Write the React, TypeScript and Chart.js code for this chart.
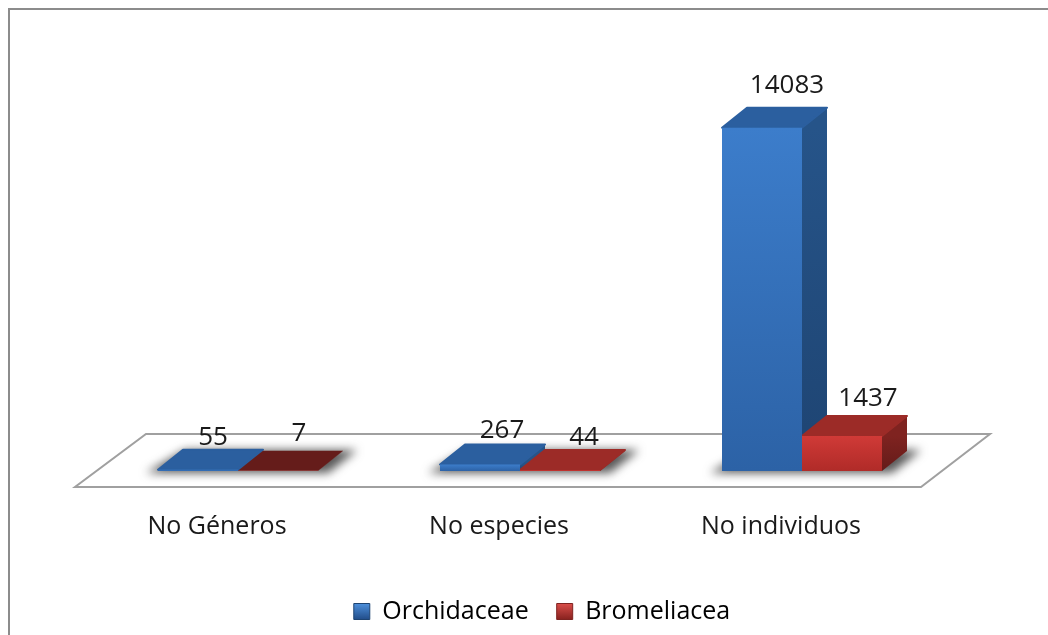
import React, { useEffect, useRef } from "react";
import { Chart, registerables } from "chart.js";

Chart.register(...registerables);

const categories = ["No Géneros", "No especies", "No individuos"];
const orchidaceae = [55, 267, 14083];
const bromeliacea = [7, 44, 1437];
const seriesNames = ["Orchidaceae", "Bromeliacea"];

const FONT = '"Open Sans", "Noto Sans", sans-serif';
const DX = 25;
const DY = 20;
const LABEL_NUDGE = [
  [[-9, 4], [-3, -1]],
  [[-2, 2], [0, 4]],
  [[1, -6], [2, -1]],
];

const BLUE = { front: ["#3c7dcb", "#2c62a6"], top: "#2b5f9f", side: ["#265489", "#1e4472"], key: ["#4f92de", "#234f8c"] };
const RED = { front: ["#d03a37", "#b02b28"], top: "#9c2b27", side: ["#7f2320", "#641b19"], key: ["#dc4f4b", "#8a2320"] };

function frontGradient(ctx: any, colors: string[]) {
  const { chart } = ctx;
  const yScale = chart.scales.y;
  const raw = ctx.raw;
  if (!yScale || typeof raw !== "number") return colors[0];
  const t = yScale.getPixelForValue(raw);
  const b = yScale.getPixelForValue(0);
  if (!Number.isFinite(t) || !Number.isFinite(b)) return colors[0];
  const g = chart.ctx.createLinearGradient(0, t, 0, b);
  g.addColorStop(0, colors[0]);
  g.addColorStop(1, colors[1]);
  return g;
}

function keyGradient(chart: any, colors: string[]) {
  const g = chart.ctx.createLinearGradient(0, 603, 0, 619);
  g.addColorStop(0, colors[0]);
  g.addColorStop(1, colors[1]);
  return g;
}

function face(ctx: any, pts: number[][], soften = false) {
  ctx.beginPath();
  pts.forEach(([x, y], i) => (i ? ctx.lineTo(x, y) : ctx.moveTo(x, y)));
  ctx.closePath();
  ctx.fill();
  if (soften) {
    ctx.lineJoin = "round";
    ctx.lineWidth = 2;
    ctx.strokeStyle = ctx.fillStyle;
    ctx.stroke();
  }
}

const scene3d = {
  id: "scene3d",
  afterLayout(chart: any) {
    // the legend is centred on the whole plot, not on the category band
    chart.legend.left += 22;
    chart.legend.right += 22;
  },
  beforeDatasetsDraw(chart: any) {
    const { ctx, chartArea: a } = chart;
    ctx.save();
    // frame: only the top and left edges fall inside the picture
    ctx.strokeStyle = "#8c8c8c";
    ctx.lineWidth = 2;
    ctx.strokeRect(9, 9, chart.width + 20, chart.height + 20);
    // floor
    const frontY = a.bottom + 16;
    const backY = a.bottom - 37;
    ctx.beginPath();
    ctx.moveTo(a.left - 22, frontY);
    ctx.lineTo(a.right - 22, frontY);
    ctx.lineTo(a.right + 47, backY);
    ctx.lineTo(a.left + 49, backY);
    ctx.closePath();
    ctx.fillStyle = "#ffffff";
    ctx.fill();
    ctx.strokeStyle = "#a0a0a0";
    ctx.lineWidth = 2;
    ctx.stroke();

    const m0 = chart.getDatasetMeta(0).data;
    const m1 = chart.getDatasetMeta(1).data;
    // shadows under each group
    m0.forEach((el: any, i: number) => {
      const l = el.x - el.width / 2;
      const r = m1[i].x + m1[i].width / 2;
      ctx.save();
      ctx.filter = "blur(5px)";
      ctx.fillStyle = "rgba(60,60,60,0.85)";
      face(ctx, [
        [l - 12, a.bottom + 2],
        [r + 10, a.bottom + 2],
        [r + DX + 14, a.bottom - DY - 1],
        [l + DX + 2, a.bottom - DY - 1],
      ]);
      ctx.restore();
    });

    // side and top faces
    [{ m: m0, c: BLUE }, { m: m1, c: RED }].forEach(({ m, c }) => {
      m.forEach((el: any) => {
        const l = el.x - el.width / 2;
        const r = el.x + el.width / 2;
        const t = el.y;
        const b = el.base;
        const side = ctx.createLinearGradient(0, t, 0, b + 0.01);
        side.addColorStop(0, c.side[0]);
        side.addColorStop(1, c.side[1]);
        ctx.fillStyle = side;
        face(ctx, [[r, t], [r + DX, t - DY], [r + DX, b - DY], [r, b]]);
        const flat = b - t < 1;
        ctx.fillStyle = flat && c === RED ? "#651c1a" : c.top;
        face(ctx, [[l, t], [r, t], [r + DX, t - DY], [l + DX, t - DY]], !flat);
      });
    });
    ctx.restore();
  },
  afterDatasetsDraw(chart: any) {
    const { ctx } = chart;
    ctx.save();
    ctx.fillStyle = "#1a1a1a";
    ctx.font = `26px ${FONT}`;
    ctx.textAlign = "center";
    ctx.textBaseline = "middle";
    chart.data.datasets.forEach((ds: any, d: number) => {
      chart.getDatasetMeta(d).data.forEach((el: any, i: number) => {
        const [nx, ny] = LABEL_NUDGE[i][d];
        ctx.fillText(String(ds.data[i]), el.x + 24 + nx, el.y - 36 + ny);
      });
    });
    ctx.restore();
  },
};

export default function App() {
  const ref = useRef<HTMLCanvasElement>(null);
  useEffect(() => {
    const chart = new Chart(ref.current as HTMLCanvasElement, {
      type: "bar",
      data: {
        labels: categories,
        datasets: [
          {
            label: seriesNames[0],
            data: orchidaceae,
            backgroundColor: (c: any) => frontGradient(c, BLUE.front),
            borderWidth: 0,
            barPercentage: 1,
            categoryPercentage: 160 / 282,
          },
          {
            label: seriesNames[1],
            data: bromeliacea,
            backgroundColor: (c: any) => frontGradient(c, RED.front),
            borderWidth: 0,
            barPercentage: 1,
            categoryPercentage: 160 / 282,
          },
        ],
      },
      options: {
        animation: false,
        responsive: false,
        layout: { padding: { left: 97, right: 105, top: 81, bottom: 1 } },
        scales: {
          x: {
            grid: { display: false },
            border: { display: false },
            afterFit: (s: any) => {
              s.height = 100;
            },
            ticks: {
              color: "#1a1a1a",
              font: { family: FONT, size: 25 },
              padding: 33,
              labelOffset: -21,
              maxRotation: 0,
            },
          },
          y: { display: false, min: 0, max: 16000 },
        },
        plugins: {
          tooltip: { enabled: false },
          legend: {
            position: "bottom",
            labels: {
              color: "#1a1a1a",
              font: { family: FONT, size: 25 },
              boxWidth: 16,
              boxHeight: 16,
              padding: 28,
              generateLabels: (c: any) => [
                { text: seriesNames[0], fillStyle: keyGradient(c, BLUE.key), strokeStyle: "#1e4472", lineWidth: 1, datasetIndex: 0 },
                { text: seriesNames[1], fillStyle: keyGradient(c, RED.key), strokeStyle: "#7f2320", lineWidth: 1, datasetIndex: 1 },
              ],
            },
          },
        },
      },
      plugins: [scene3d],
    } as any);
    return () => chart.destroy();
  }, []);
  return (
    <div style={{ position: "absolute", left: 0, top: 0, width: 1048, height: 635, overflow: "hidden", background: "#fff" }}>
      <canvas ref={ref} width={1048} height={635} style={{ display: "block" }} />
    </div>
  );
}
